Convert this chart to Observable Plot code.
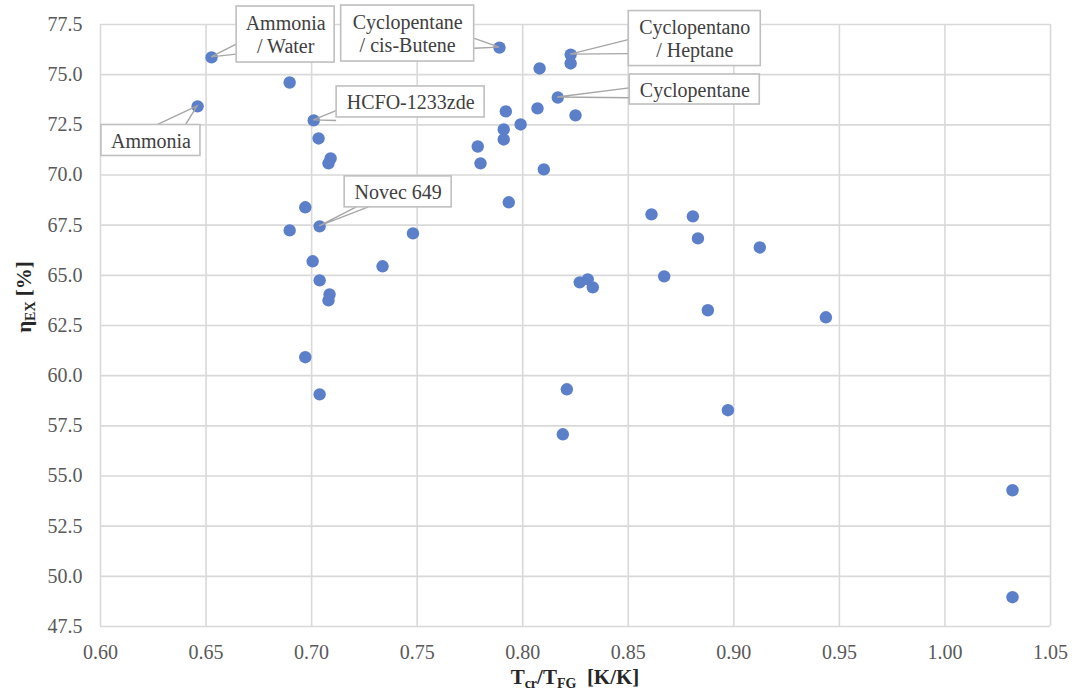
<!DOCTYPE html>
<html>
<head>
<meta charset="utf-8">
<script src="https://cdn.jsdelivr.net/npm/d3@7"></script>
<script src="https://cdn.jsdelivr.net/npm/@observablehq/plot@0.6"></script>
<style>
  body { margin: 0; background: #fff; }
  #chart svg { display: block; }
</style>
</head>
<body>
<div id="chart"></div>
<script>
// ---- data ----
const ratio = [
  0.6526, 0.6460, 0.6896, 0.7010, 0.7033, 0.7090, 0.7080, 0.6970, 0.6896, 0.7038,
  0.7005, 0.7038, 0.7085, 0.7080, 0.6970, 0.7038, 0.7336, 0.7480, 0.7890, 0.8080,
  0.8227, 0.8227, 0.8166, 0.8070, 0.7920, 0.8250, 0.7990, 0.7910, 0.7910, 0.7787,
  0.7800, 0.8100, 0.7934, 0.8610, 0.8806, 0.8830, 0.9123, 0.8670, 0.8270, 0.8308,
  0.8332, 0.8877, 0.9436, 0.8209, 0.8190, 0.8972, 1.0320, 1.0320
];
const efficiency = [
  75.86, 73.42, 74.61, 72.72, 71.82, 70.83, 70.58, 68.39, 67.24, 67.44,
  65.70, 64.75, 64.05, 63.75, 60.92, 59.07, 65.45, 67.09, 76.35, 75.31,
  76.00, 75.56, 73.86, 73.32, 73.17, 72.97, 72.52, 72.27, 71.77, 71.42,
  70.58, 70.28, 68.64, 68.04, 67.94, 66.84, 66.39, 64.95, 64.65, 64.80,
  64.40, 63.26, 62.91, 59.32, 57.08, 58.28, 54.29, 48.96
];
const calloutNames = [
  "Ammonia\n/ Water", "Ammonia", "Cyclopentane\n/ cis-Butene", "HCFO-1233zde",
  "Novec 649", "Cyclopentano\n/ Heptane", "Cyclopentane"
];
const calloutPoint = [0, 1, 18, 3, 9, 20, 22];
// label centres, in data units
const calloutX = [0.6877, 0.6239, 0.7455, 0.7469, 0.7410, 0.8815, 0.8815];
const calloutY = [77.00, 71.72, 77.05, 73.64, 69.16, 76.80, 74.26];
const xTicks = [0.60, 0.65, 0.70, 0.75, 0.80, 0.85, 0.90, 0.95, 1.00, 1.05];
const yTicks = [47.5, 50.0, 52.5, 55.0, 57.5, 60.0, 62.5, 65.0, 67.5, 70.0, 72.5, 75.0, 77.5];

// ---- layout of callout boxes (pixels) ----
const boxW = [98, 99, 133, 148, 107, 132, 130];
const boxH = [56, 31, 56, 31, 31, 55, 30];
const wedge = [5, 14, 5, 5, 6, 7, 5];

const points = ratio.map((r, i) => ({r, e: efficiency[i]}));
const callouts = calloutNames.map((name, i) => ({
  name, p: calloutPoint[i], lx: calloutX[i], ly: calloutY[i],
  w: boxW[i], h: boxH[i], s: wedge[i]
}));

const FONT = "Liberation Serif";

function calloutMark(index, scales) {
  const g = d3.create("svg:g");
  for (const c of callouts) {
    const px = scales.x(ratio[c.p]), py = scales.y(efficiency[c.p]);
    const cx = scales.x(c.lx), cy = scales.y(c.ly);
    const hw = c.w / 2, hh = c.h / 2;
    const dx = px - cx, dy = py - cy;
    const tx = dx !== 0 ? hw / Math.abs(dx) : Infinity;
    const ty = dy !== 0 ? hh / Math.abs(dy) : Infinity;
    let e1, e2;
    if (tx < ty) {
      const ex = cx + dx * tx, ey = cy + dy * tx;
      e1 = [ex, ey - c.s]; e2 = [ex, ey + c.s];
    } else {
      const ex = cx + dx * ty, ey = cy + dy * ty;
      e1 = [ex - c.s, ey]; e2 = [ex + c.s, ey];
    }
    g.append("path")
      .attr("d", `M${e1[0]},${e1[1]}L${px},${py}L${e2[0]},${e2[1]}`)
      .attr("fill", "none").attr("stroke", "#a6a6a6").attr("stroke-width", 1.4);
    g.append("rect")
      .attr("x", cx - hw).attr("y", cy - hh).attr("width", c.w).attr("height", c.h)
      .attr("fill", "#fff").attr("stroke", "#bfbfbf").attr("stroke-width", 1.6);
  }
  return g.node();
}

function axisTitles(index, scales, values, dims) {
  const g = d3.create("svg:g")
    .attr("font-family", FONT).attr("font-weight", "bold").attr("fill", "#262626");
  const xMid = (dims.marginLeft + dims.width - dims.marginRight) / 2;
  const tx = g.append("text").attr("x", xMid).attr("y", 684)
    .attr("text-anchor", "middle").attr("font-size", 21);
  tx.append("tspan").text("T");
  tx.append("tspan").attr("font-size", 14).attr("dy", 4).text("cr");
  tx.append("tspan").attr("dy", -4).text("/T");
  tx.append("tspan").attr("font-size", 14).attr("dy", 4).text("FG");
  tx.append("tspan").attr("dy", -4).text("\u00a0\u00a0[K/K]");
  const ty = g.append("text").attr("transform", "translate(31,297) rotate(-90)")
    .attr("text-anchor", "middle").attr("font-size", 21);
  ty.append("tspan").text("η");
  ty.append("tspan").attr("font-size", 14).attr("dy", 4).text("EX");
  ty.append("tspan").attr("dy", -4).text("\u00a0[%]");
  return g.node();
}

const plot = Plot.plot({
  width: 1077,
  height: 699,
  marginLeft: 100,
  marginRight: 27,
  marginTop: 24,
  marginBottom: 73,
  style: {fontFamily: FONT, color: "#595959", background: "#fff"},
  x: {domain: [0.6, 1.05], label: null},
  y: {domain: [47.5, 77.5], label: null},
  marks: [
    Plot.gridX(xTicks, {stroke: "#d9d9d9", strokeOpacity: 1, strokeWidth: 1.6}),
    Plot.gridY(yTicks, {stroke: "#d9d9d9", strokeOpacity: 1, strokeWidth: 1.6}),
    Plot.axisX(xTicks, {tickSize: 0, tickPadding: 18, tickFormat: d => d.toFixed(2), label: null, fontSize: 20, fontFamily: FONT, fill: "#595959"}),
    Plot.axisY(yTicks, {tickSize: 0, tickPadding: 18, tickFormat: d => d.toFixed(1), label: null, fontSize: 20, fontFamily: FONT, fill: "#595959"}),
    Plot.dot(points, {x: "r", y: "e", r: 6.2, fill: "#5b7fc9", stroke: null}),
    calloutMark,
    Plot.text(callouts, {x: "lx", y: "ly", text: "name", fontSize: 20, fontFamily: FONT, lineHeight: 1.15, fill: "#404040"}),
    axisTitles
  ]
});
document.getElementById("chart").appendChild(plot);
</script>
</body>
</html>
